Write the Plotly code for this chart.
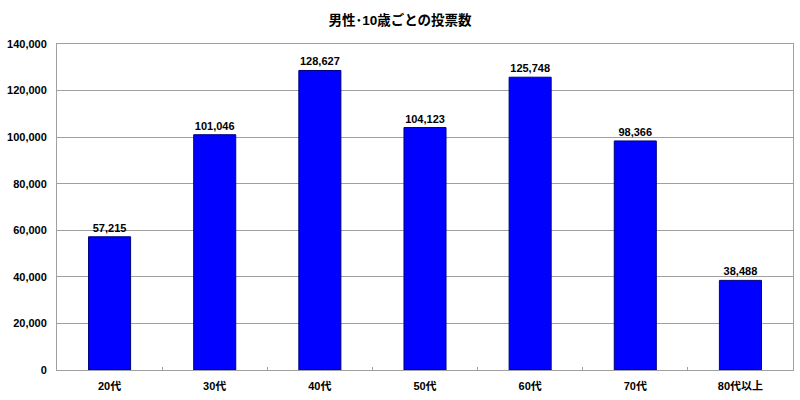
import plotly.graph_objects as go

categories = ["20代", "30代", "40代", "50代", "60代", "70代", "80代以上"]
votes = [57215, 101046, 128627, 104123, 125748, 98366, 38488]
y_ticks = [0, 20000, 40000, 60000, 80000, 100000, 120000, 140000]
y_tick_labels = ["0", "20,000", "40,000", "60,000", "80,000", "100,000", "120,000", "140,000"]

font_family = "Liberation Sans, Arial, Noto Sans CJK JP, sans-serif"

fig = go.Figure(go.Bar(
    x=categories,
    y=votes,
    width=0.4,
    marker=dict(color="#0000FF", line=dict(color="#000080", width=1)),
    text=[f"{v:,}" for v in votes],
    textposition="outside",
    textfont=dict(size=11, color="#000000", family=font_family, weight="bold"),
    cliponaxis=False,
))

fig.update_layout(
    width=800, height=400,
    margin=dict(l=57, r=7, t=44, b=30),
    paper_bgcolor="white", plot_bgcolor="white",
    title=dict(text="<b>男性･10歳ごとの投票数</b>", x=0.5, xanchor="center", y=0.95, yanchor="middle",
               font=dict(size=13.5, color="#000000", family=font_family)),
    showlegend=False,
    bargap=0.6,
)
fig.update_yaxes(
    range=[0, 140000], tickvals=y_ticks, ticktext=y_tick_labels,
    showgrid=True, gridcolor="#A0A0A0", gridwidth=1,
    showline=True, linecolor="#A0A0A0", linewidth=1, mirror=True,
    ticks="", zeroline=False, ticklabelstandoff=7,
    tickfont=dict(size=11, color="#000000", family=font_family, weight="bold"),
)
fig.update_xaxes(
    showline=True, linecolor="#A0A0A0", linewidth=1, mirror=True,
    ticks="inside", tickson="boundaries", ticklen=3, tickcolor="#A0A0A0",
    showgrid=False, ticklabelstandoff=6,
    tickfont=dict(size=11, color="#000000", family=font_family, weight="bold"),
)

fig.write_html("out.html", config={"displayModeBar": False},
               post_script="document.body.style.margin='0';document.body.style.overflow='hidden';")
